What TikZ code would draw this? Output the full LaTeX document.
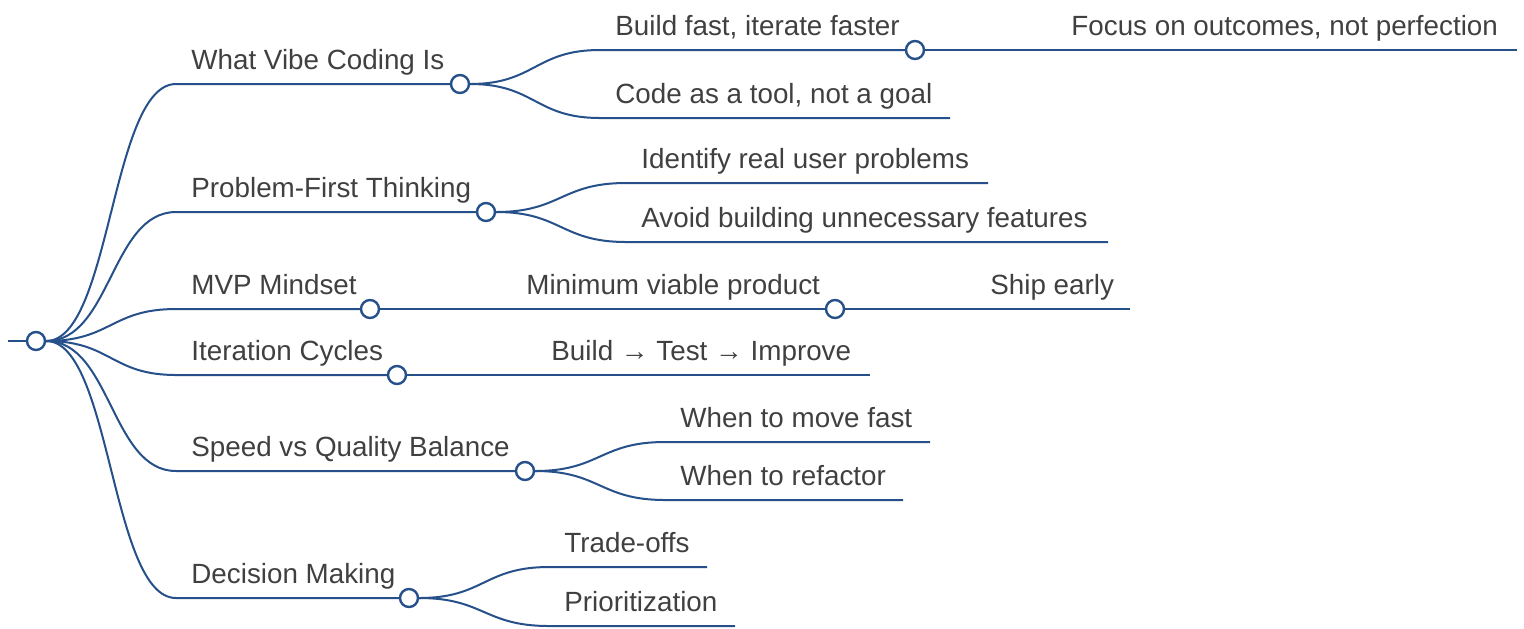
\documentclass[tikz,border=0pt]{standalone}
\usepackage{fontspec}
\setmainfont{Liberation Sans}
\begin{document}
\begin{tikzpicture}[x=0.5pt, y=-0.5pt,
  edge/.style={draw=mapblue, line width=1pt},
  knob/.style={circle, draw=mapblue, fill=white, line width=1.2pt, minimum size=9pt, inner sep=0pt},
  lbl/.style={anchor=base west, inner sep=0pt, text=mapgray, font=\fontsize{13.9}{16}\selectfont},
  link/.style={to path={.. controls +(75,0) and +(-65,0) .. (\tikztotarget)}}]
\definecolor{mapblue}{HTML}{25508A}
\definecolor{mapgray}{HTML}{404040}
\useasboundingbox (0,0) rectangle (1524,628);

\coordinate (in) at (8,341);
\node[knob] (root) at (36,341) {};
\draw[edge] (in) -- (root);

% first level
\coordinate (what-s) at (176,84);
\node[lbl] (what) at (191,69) {What Vibe Coding Is};
\node[knob] (what-c) at (460,84) {};
\coordinate (prob-s) at (176,212);
\node[lbl] (prob) at (191,197) {Problem-First Thinking};
\node[knob] (prob-c) at (486,212) {};
\coordinate (mvp-s) at (176,309);
\node[lbl] (mvp) at (191,294) {MVP Mindset};
\node[knob] (mvp-c) at (370,309) {};
\coordinate (iter-s) at (176,375);
\node[lbl] (iter) at (191,360) {Iteration Cycles};
\node[knob] (iter-c) at (397,375) {};
\coordinate (speed-s) at (176,471);
\node[lbl] (speed) at (191,456) {Speed vs Quality Balance};
\node[knob] (speed-c) at (525,471) {};
\coordinate (dec-s) at (176,598);
\node[lbl] (dec) at (191,583) {Decision Making};
\node[knob] (dec-c) at (409,598) {};

\draw[edge] (root) to[link] (what-s) -- (what-c);
\draw[edge] (root) to[link] (prob-s) -- (prob-c);
\draw[edge] (root) to[link] (mvp-s) -- (mvp-c);
\draw[edge] (root) to[link] (iter-s) -- (iter-c);
\draw[edge] (root) to[link] (speed-s) -- (speed-c);
\draw[edge] (root) to[link] (dec-s) -- (dec-c);

% second level
\coordinate (build-s) at (600,50);
\node[lbl] (build) at (615,35) {Build fast, iterate faster};
\node[knob] (build-c) at (915,50) {};
\coordinate (code-s) at (600,118);
\node[lbl] (code) at (615,103) {Code as a tool, not a goal};
\coordinate (code-e) at (950,118);
\coordinate (ident-s) at (626,183);
\node[lbl] (ident) at (641,168) {Identify real user problems};
\coordinate (ident-e) at (988,183);
\coordinate (avoid-s) at (626,242);
\node[lbl] (avoid) at (641,227) {Avoid building unnecessary features};
\coordinate (avoid-e) at (1108,242);
\coordinate (mvprod-s) at (510,309);
\node[lbl] (mvprod) at (526,294) {Minimum viable product};
\node[knob] (mvprod-c) at (835,309) {};
\coordinate (loop-s) at (537,375);
\node[lbl] (loop) at (551,360) {Build → Test → Improve};
\coordinate (loop-e) at (870,375);
\coordinate (fast-s) at (665,442);
\node[lbl] (fast) at (680,427) {When to move fast};
\coordinate (fast-e) at (930,442);
\coordinate (refac-s) at (665,500);
\node[lbl] (refac) at (680,485) {When to refactor};
\coordinate (refac-e) at (903,500);
\coordinate (trade-s) at (549,567);
\node[lbl] (trade) at (564,552) {Trade-offs};
\coordinate (trade-e) at (707,567);
\coordinate (prio-s) at (549,626);
\node[lbl] (prio) at (564,611) {Prioritization};
\coordinate (prio-e) at (735,626);

\draw[edge] (what-c) to[link] (build-s) -- (build-c);
\draw[edge] (what-c) to[link] (code-s) -- (code-e);
\draw[edge] (prob-c) to[link] (ident-s) -- (ident-e);
\draw[edge] (prob-c) to[link] (avoid-s) -- (avoid-e);
\draw[edge] (mvp-c) -- (mvprod-s) -- (mvprod-c);
\draw[edge] (iter-c) -- (loop-s) -- (loop-e);
\draw[edge] (speed-c) to[link] (fast-s) -- (fast-e);
\draw[edge] (speed-c) to[link] (refac-s) -- (refac-e);
\draw[edge] (dec-c) to[link] (trade-s) -- (trade-e);
\draw[edge] (dec-c) to[link] (prio-s) -- (prio-e);

% third level
\coordinate (focus-s) at (1055,50);
\node[lbl] (focus) at (1071,35) {Focus on outcomes, not perfection};
\coordinate (focus-e) at (1517,50);
\coordinate (ship-s) at (975,309);
\node[lbl] (ship) at (990,294) {Ship early};
\coordinate (ship-e) at (1130,309);

\draw[edge] (build-c) -- (focus-s) -- (focus-e);
\draw[edge] (mvprod-c) -- (ship-s) -- (ship-e);
\end{tikzpicture}
\end{document}
